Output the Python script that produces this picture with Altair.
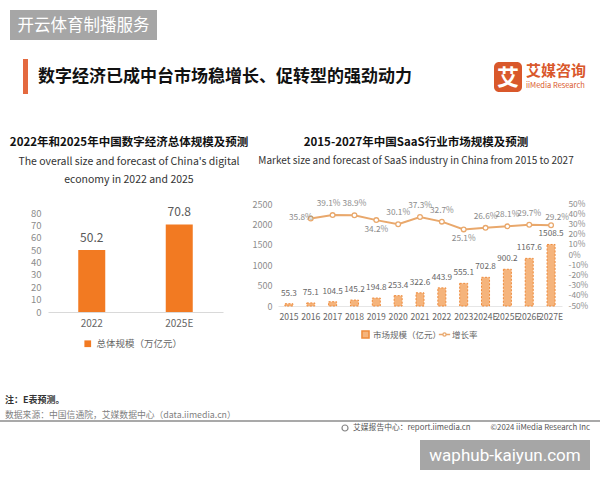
import altair as alt
import pandas as pd

FONT = "Noto Sans CJK SC"

# ---------------- data ----------------
dig_years = ["2022", "2025E"]
dig_values = [50.2, 70.8]
dig_series = "总体规模（万亿元）"
dig_ticks = [0, 10, 20, 30, 40, 50, 60, 70, 80]

saas_years = ["2015", "2016", "2017", "2018", "2019", "2020", "2021",
              "2022", "2023", "2024E", "2025E", "2026E", "2027E"]
saas_values = [55.3, 75.1, 104.5, 145.2, 194.8, 253.4, 322.6,
               443.9, 555.1, 702.8, 900.2, 1167.6, 1508.5]
saas_series = "市场规模（亿元）"
saas_ticks = [0, 500, 1000, 1500, 2000, 2500]

growth_years = saas_years[1:]
growth_values = [35.8, 39.1, 38.9, 34.2, 30.1, 37.3, 32.7,
                 25.1, 26.6, 28.1, 29.7, 29.2]
growth_series = "增长率"
rate_ticks = [-50, -40, -30, -20, -10, 0, 10, 20, 30, 40, 50]
growth_below = ["2019", "2023"]
growth_left = ["2016"]
growth_right = ["2027E"]
growth_above_shift = ["2017"]

# ---------------- colours ----------------
ORANGE = "#f27a22"
BAR2 = "#f5b47c"
BAR2_STROKE = "#ee8a3a"
LINE = "#e9a86c"
LOGO = "#d9582b"
GREY_BOX = "#a6a6a6"

W, H = 600, 480
ONE = alt.Data(values=[{"k": 1}])


def txt(text, x, y, size, color="#333333", weight="normal", align="left",
        baseline="middle", font=FONT):
    return alt.Chart(ONE).mark_text(
        text=text, fontSize=size, color=color, fontWeight=weight,
        align=align, baseline=baseline, font=font
    ).encode(x=alt.value(x), y=alt.value(y))


def box(x0, x1, y0, y1, color, radius=0):
    return alt.Chart(ONE).mark_rect(color=color, cornerRadius=radius).encode(
        x=alt.value(x0), x2=alt.value(x1), y=alt.value(y0), y2=alt.value(y1))


# ---------------- header ----------------
header = [
    box(10, 157, 10, 40, GREY_BOX),
    txt("开云体育制播服务", 83.5, 26, 16.5, color="white", align="center"),
    box(23, 28, 59, 94, "#e4693f"),
    txt("数字经济已成中台市场稳增长、促转型的强劲动力", 38, 77, 17,
        color="#111111", weight="bold"),
    box(494, 522, 62, 92, LOGO, radius=5),
    txt("艾", 508, 77.5, 22, color="white", weight="bold", align="center"),
    txt("艾媒咨询", 526, 71, 15, color=LOGO, weight="bold"),
    txt("iiMedia Research", 526, 86, 7.5, color=LOGO),
]

# ---------------- left chart ----------------
dig_df = pd.DataFrame({"year": dig_years, "value": dig_values,
                       "series": [dig_series] * len(dig_years)})

xLs = alt.Scale(domain=dig_years, range=[48, 223], paddingInner=0,
                paddingOuter=0)
yLs = alt.Scale(domain=[0, 80], range=[312, 213], nice=False)
xL = alt.X("year:N", sort=dig_years, scale=xLs,
           axis=alt.Axis(orient="bottom", offset=-168, title=None,
                         labelAngle=0, ticks=False, domainColor="#d9d9d9",
                         labelColor="#666666", labelFontSize=10,
                         labelFont=FONT, labelPadding=6))
yL = alt.Y("value:Q", scale=yLs,
           axis=alt.Axis(orient="left", offset=-48, values=dig_ticks,
                         title=None, domain=False, ticks=False, grid=False,
                         labelColor="#8c8c8c", labelFontSize=9.5,
                         labelFont=FONT, labelPadding=7))
xL_noaxis = alt.X("year:N", sort=dig_years, scale=xLs, axis=None)
yL_noaxis = alt.Y("value:Q", scale=yLs, axis=None)

left_bars = alt.Chart(dig_df).mark_bar(size=27).encode(
    x=xL, y=yL,
    color=alt.Color("series:N", scale=alt.Scale(domain=[dig_series], range=[ORANGE]),
                    legend=alt.Legend(orient="none", legendX=83, legendY=339,
                                      title=None, symbolType="square",
                                      symbolSize=45, padding=0,
                                      labelFont=FONT, labelFontSize=9.5,
                                      labelColor="#666666", labelOffset=4)))
left_labels = alt.Chart(dig_df).mark_text(
    dy=-12, fontSize=12, color="#595959", font=FONT
).encode(x=xL_noaxis, y=yL_noaxis, text=alt.Text("value:Q", format=".1f"))

left_titles = [
    txt("2022年和2025年中国数字经济总体规模及预测", 129, 143, 11.5,
        color="#111111", weight="bold", align="center"),
    txt("The overall size and forecast of China's digital", 129, 162, 10.5,
        color="#333333", align="center"),
    txt("economy in 2022 and 2025", 129, 180, 10.5, color="#333333",
        align="center"),
]

# ---------------- right chart ----------------
saas_df = pd.DataFrame({"year": saas_years, "value": saas_values,
                        "series": [saas_series] * len(saas_years)})
growth_df = pd.DataFrame({"year": growth_years, "rate": growth_values,
                          "series": [growth_series] * len(growth_years)})

xs = alt.Scale(domain=saas_years, range=[278, 562], paddingInner=0,
               paddingOuter=0)
xR = alt.X("year:N", sort=saas_years, scale=xs,
           axis=alt.Axis(orient="bottom", offset=-174, title=None,
                         labelAngle=0, ticks=False, domainColor="#e6e6e6",
                         labelColor="#666666", labelFontSize=8.6,
                         labelFont=FONT, labelPadding=6))
xR_noaxis = alt.X("year:N", sort=saas_years, scale=xs, axis=None)

ysc = alt.Scale(domain=[0, 2500], range=[306, 204], nice=False)
yR = alt.Y("value:Q", scale=ysc,
           axis=alt.Axis(orient="left", offset=-278, values=saas_ticks,
                         format="d", title=None, domain=False, ticks=False,
                         grid=False, labelColor="#8c8c8c", labelFontSize=9,
                         labelFont=FONT, labelPadding=6))
yR_noaxis = alt.Y("value:Q", scale=ysc, axis=None)

rsc = alt.Scale(domain=[-50, 50], range=[306, 204], nice=False)
yRate = alt.Y("rate:Q", scale=rsc,
              axis=alt.Axis(orient="right", offset=-38, values=rate_ticks,
                            title=None, domain=False, ticks=False, grid=False,
                            labelColor="#8c8c8c", labelFontSize=8.3,
                            labelFont=FONT, labelPadding=6,
                            labelExpr="datum.value + '%'"))
yRate_noaxis = alt.Y("rate:Q", scale=rsc, axis=None)

right_bars = alt.Chart(saas_df).mark_bar(
    size=8, stroke=BAR2_STROKE, strokeWidth=1, strokeDash=[2, 1.5]
).encode(
    x=xR, y=yR,
    color=alt.Color("series:N", scale=alt.Scale(domain=[saas_series], range=[BAR2]),
                    legend=alt.Legend(orient="none", legendX=361, legendY=330,
                                      title=None, symbolType="square",
                                      symbolSize=50, padding=0,
                                      symbolStrokeColor=BAR2_STROKE,
                                      labelFont=FONT, labelFontSize=8.5,
                                      labelColor="#666666", labelOffset=3)))
right_bar_labels = alt.Chart(saas_df).mark_text(
    dy=-10, fontSize=8.2, color="#666666", font=FONT
).encode(x=xR_noaxis, y=yR_noaxis, text=alt.Text("value:Q", format=".1f"))

line_symbol = ("M-1.6,0 L-0.45,0 M0.45,0 L1.6,0 "
               "M0.45,0 A0.45,0.45 0 1,1 -0.45,0 A0.45,0.45 0 1,1 0.45,0 Z")
right_line = alt.Chart(growth_df).mark_line(strokeWidth=2).encode(
    x=xR_noaxis, y=yRate,
    color=alt.Color("series:N", scale=alt.Scale(domain=[growth_series], range=[LINE]),
                    legend=alt.Legend(orient="none", legendX=440, legendY=330,
                                      title=None, symbolType=line_symbol,
                                      symbolSize=50, symbolStrokeWidth=1.3,
                                      symbolFillColor="white", padding=0,
                                      labelFont=FONT, labelFontSize=8.5,
                                      labelColor="#666666", labelOffset=3)))
right_points = alt.Chart(growth_df).mark_point(
    filled=True, fill="white", stroke=LINE, strokeWidth=1.3, size=22,
    opacity=1
).encode(x=xR_noaxis, y=yRate_noaxis)

gbase = alt.Chart(growth_df).transform_calculate(
    label="format(datum.rate, '.1f') + '%'")
lab_style = dict(fontSize=8.3, color="#8c8c8c", font=FONT)
special = growth_below + growth_left + growth_right + growth_above_shift
above_years = [y for y in growth_years if y not in special]
growth_above = gbase.transform_filter(
    alt.FieldOneOfPredicate(field="year", oneOf=above_years)
).mark_text(dy=-11, **lab_style).encode(
    x=xR_noaxis, y=yRate_noaxis, text="label:N")
growth_above_l = gbase.transform_filter(
    alt.FieldOneOfPredicate(field="year", oneOf=growth_above_shift)
).mark_text(dy=-11, dx=-4, **lab_style).encode(
    x=xR_noaxis, y=yRate_noaxis, text="label:N")
growth_under = gbase.transform_filter(
    alt.FieldOneOfPredicate(field="year", oneOf=growth_below)
).mark_text(dy=10, **lab_style).encode(
    x=xR_noaxis, y=yRate_noaxis, text="label:N")
growth_side = gbase.transform_filter(
    alt.FieldOneOfPredicate(field="year", oneOf=growth_left)
).mark_text(dx=2, align="right", **lab_style).encode(
    x=xR_noaxis, y=yRate_noaxis, text="label:N")
growth_side_r = gbase.transform_filter(
    alt.FieldOneOfPredicate(field="year", oneOf=growth_right)
).mark_text(dx=6, dy=-7, **lab_style).encode(
    x=xR_noaxis, y=yRate_noaxis, text="label:N")

right_titles = [
    txt("2015-2027年中国SaaS行业市场规模及预测", 416, 143, 11.5,
        color="#111111", weight="bold", align="center"),
    txt("Market size and forecast of SaaS industry in China from 2015 to 2027",
        416, 161, 10, color="#333333", align="center"),
]

# ---------------- footer ----------------
footer = [
    txt("注：E表预测。", 5, 400, 9, color="#333333", weight="bold"),
    txt("数据来源：中国信通院，艾媒数据中心（data.iimedia.cn）", 5, 415, 8.8,
        color="#7f7f7f"),
    alt.Chart(ONE).mark_rule(color="#8c8c8c", strokeWidth=1.5).encode(
        x=alt.value(0), x2=alt.value(600), y=alt.value(421)),
    alt.Chart(ONE).mark_point(shape="circle", size=36, color="#555555",
                              strokeWidth=1.2).encode(
        x=alt.value(345), y=alt.value(428)),
    txt("艾媒报告中心：report.iimedia.cn", 353, 428, 7.8, color="#555555"),
    txt("©2024  iiMedia Research  Inc", 590, 428, 7.8, color="#555555",
        align="right"),
    box(420, 590, 440, 470, GREY_BOX),
    txt("waphub-kaiyun.com", 505, 456, 17, color="white", align="center",
        font="Roboto"),
]

layers = (header + left_titles + [left_bars, left_labels] + right_titles +
          [right_bars, right_bar_labels, right_line, right_points,
           growth_above, growth_above_l, growth_under, growth_side,
           growth_side_r] + footer)

chart = alt.layer(*layers).resolve_scale(
    x="independent", y="independent", color="independent"
).resolve_axis(
    x="independent", y="independent"
).resolve_legend(
    color="independent"
).properties(
    width=W, height=H, padding=0,
    autosize=alt.AutoSizeParams(type="none"),
    background="white"
).configure_view(stroke=None)

chart.save("out.html", embed_options={"renderer": "svg", "actions": False})
